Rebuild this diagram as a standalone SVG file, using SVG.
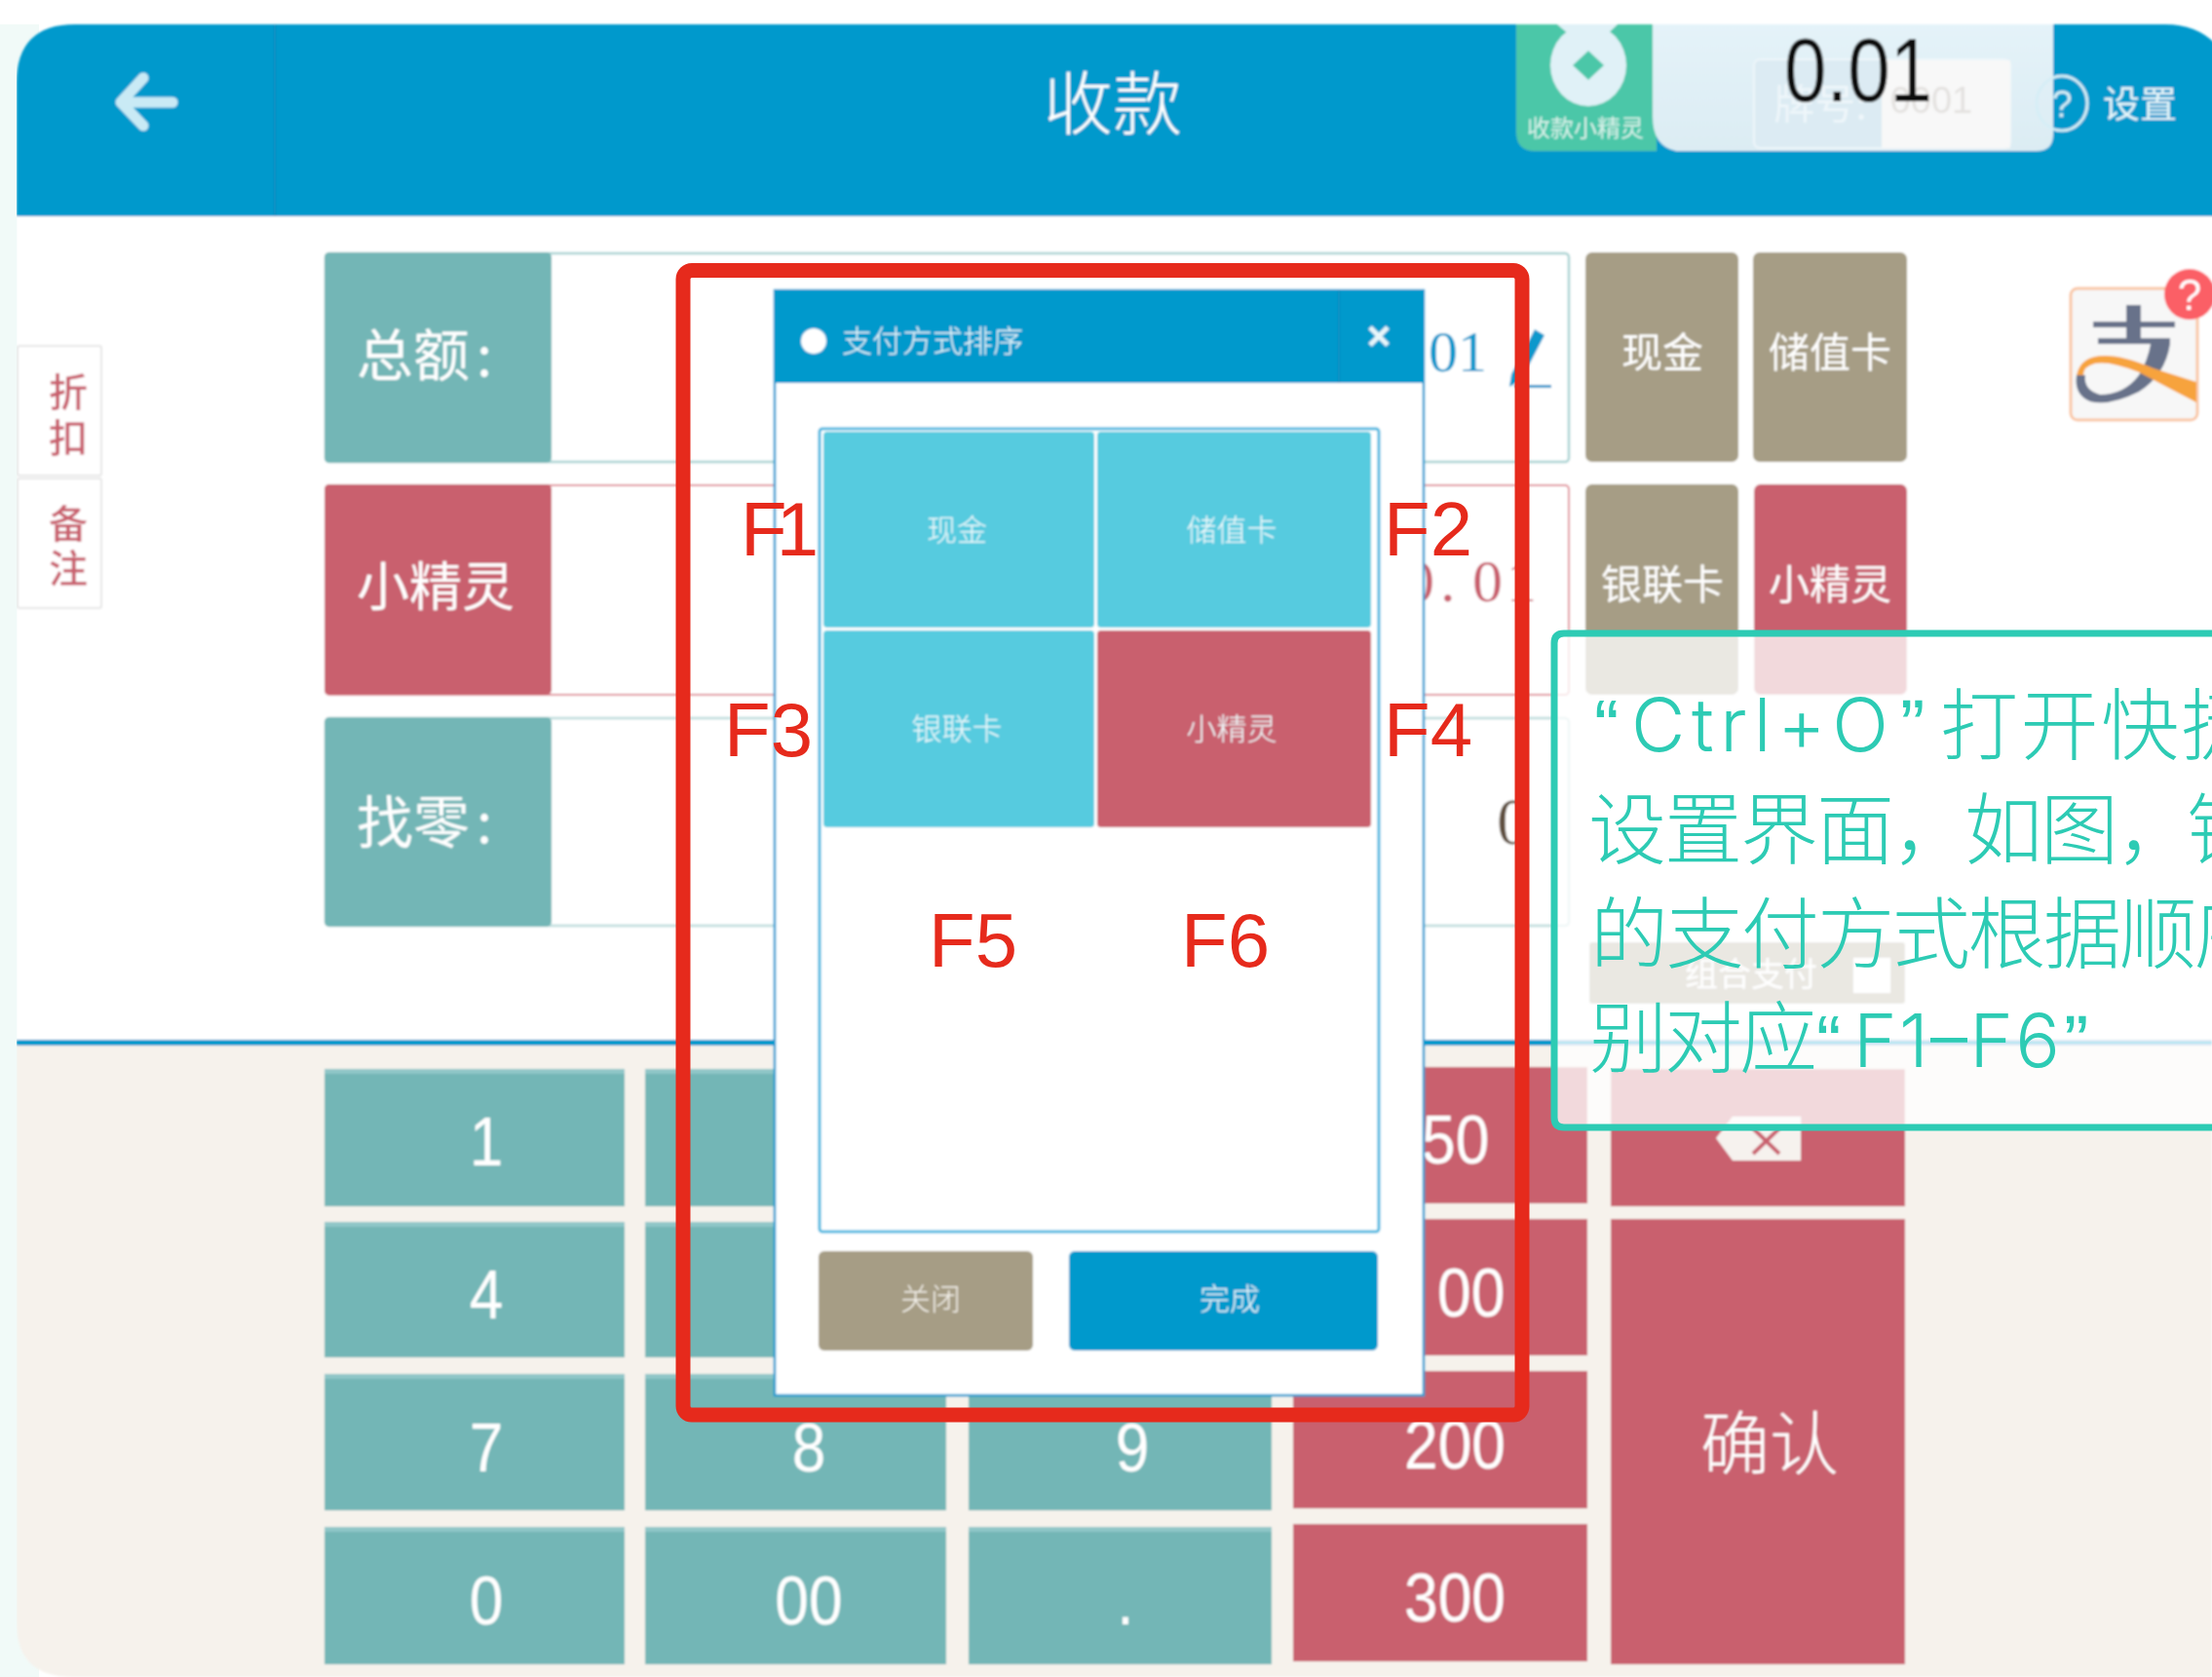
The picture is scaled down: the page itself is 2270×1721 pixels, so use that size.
<svg xmlns="http://www.w3.org/2000/svg" width="2270" height="1721" viewBox="0 0 2270 1721">
<style>
text{font-family:"Noto Sans CJK SC","Liberation Sans",sans-serif;text-anchor:middle}
.w{fill:#fff}.lat{font-family:"Liberation Sans","Noto Sans CJK SC",sans-serif}
.ser{font-family:"Liberation Serif","Noto Sans CJK SC",serif;text-anchor:start}
.t{fill:#73b6b6}.r{fill:#c9616e}.tan{fill:#a69d85}.strip{fill:#8fc6c7}
.lab{font-size:58px;fill:#fff;text-anchor:start}.lab3{font-size:54px;fill:#fff}.btn{font-size:42px;fill:#fff}
.num{font-size:70px;fill:#fff;font-family:"Liberation Sans",sans-serif}
.fk{font-size:78px;fill:#e62a1c;font-family:"Liberation Sans",sans-serif;text-anchor:start}
.tile{font-size:31px;fill:#f0fbfd;font-weight:300}
.side{font-size:40px;fill:#c9616e;font-weight:500}
.note{font-size:80px;fill:#2dcbb4;font-weight:300;text-anchor:start}
.notel{font-size:76px;fill:#2dcbb4;font-family:Inter,"Liberation Sans",sans-serif;font-weight:300;text-anchor:start}
.q{font-size:76px;fill:#2dcbb4;font-family:"Liberation Sans",sans-serif;text-anchor:start}
</style>
<defs>
<filter id="soft" x="0" y="0" width="100%" height="100%"><feGaussianBlur stdDeviation="0.8"/></filter>
<linearGradient id="plateg" x1="0" y1="0" x2="0" y2="1"><stop offset="0" stop-color="#e4f3f9"/><stop offset="1" stop-color="#dcecf3"/></linearGradient>
</defs>
<rect width="2270" height="1721" fill="#fff"/>
<rect x="0" y="25" width="40" height="1696" fill="#f1faf8"/>
<g id="screen" filter="url(#soft)">
<g id="card">
<path d="M17 1660V222H2270V1721H75Q17 1721 17 1660Z" fill="#fff"/>
<path d="M17 1068H2270V1721H75Q17 1721 17 1665Z" fill="#f6f2ec"/>
<rect x="17" y="1067" width="2253" height="6" fill="#0099cc"/>
<path d="M17 222V85Q17 25 77 25H2222Q2270 25 2290 70V222Z" fill="#0099cc"/>
<rect x="281" y="25" width="2" height="197" fill="#0a8cc0"/>
</g>
<g id="back-arrow" fill="none" stroke="#c9eaf5" stroke-width="11" stroke-linecap="round" stroke-linejoin="round">
<path d="M177 105H125"/><path d="M147 80L124 105L147 129"/>
</g>
<text id="title" x="1142" y="132" font-size="71" class="w" font-weight="300">收款</text>
<g id="widget">
<path d="M1556 25H1700V155H1575Q1556 155 1556 135Z" fill="#4cc7a8"/>
<path d="M1696 25H2107V138Q2107 155 2090 155H1720Q1696 150 1696 120Z" fill="url(#plateg)"/>
<path d="M1598 25L1618 42H1642L1660 25Z" fill="#e0f1f7"/>
<ellipse cx="1630" cy="67" rx="39" ry="42" fill="#e0f1f7"/>
<path d="M1630 52L1646 67L1630 82L1614 67Z" fill="#4cc7a8"/>
<text x="1627" y="140" font-size="24" fill="#d8f2ea">收款小精灵</text>
<rect x="1800" y="61" width="263" height="91" rx="6" fill="#dcebf3" stroke="#eef6fa" stroke-width="2"/>
<rect x="1931" y="62" width="132" height="90" fill="#f8f8f8"/>
<text x="1868" y="122" font-size="42" fill="#eef6fa">牌号:</text>
<text x="1982" y="116" font-size="38" class="lat" fill="#e4e2e0">0001</text>
<text x="1907" y="104" font-size="93" class="lat" fill="#111" textLength="152" lengthAdjust="spacingAndGlyphs">0.01</text>
<ellipse cx="2116" cy="106" rx="26" ry="28" fill="none" stroke="#d6eef6" stroke-width="3"/>
<text x="2116" y="120" font-size="38" class="lat" fill="#d6eef6">?</text>
<text x="2196" y="120" font-size="38" fill="#e6f5fa">设置</text>
</g>
<g id="side-tabs">
<rect x="18" y="355" width="86" height="133" fill="#fff" stroke="#e6e6e6" stroke-width="2" rx="2"/>
<rect x="18" y="491" width="86" height="133" fill="#fff" stroke="#e6e6e6" stroke-width="2" rx="2"/>
<text x="70" y="417" class="side">折</text><text x="70" y="464" class="side">扣</text>
<text x="70" y="552" class="side">备</text><text x="70" y="598" class="side">注</text>
</g>
<g id="row-total">
<rect x="334" y="260" width="1276" height="214" fill="#fff" stroke="#a8d2d2" stroke-width="2.5" rx="4"/>
<rect x="333" y="259" width="233" height="216" rx="5" class="t"/>
<text y="386"><tspan class="lab" x="366">总额</tspan><tspan class="lab" x="489">:</tspan></text>
<text x="1466" y="381" font-size="60" class="ser" fill="#0f98cc">01</text>
<path d="M1575 338L1585 344L1561 390L1549 397L1551 384Z" fill="#0f98cc"/>
<rect x="1554" y="395" width="38" height="3" fill="#0f98cc"/>
</g>
<g id="row-spirit">
<rect x="334" y="498" width="1276" height="215" fill="#fff" stroke="#e08d96" stroke-width="2" rx="4"/>
<rect x="333" y="497" width="233" height="216" rx="5" class="r"/>
<text x="447" y="622" class="lab3">小精灵</text>
<text x="1441 1478 1511 1546" y="617" font-size="62" class="ser" fill="#c9616e">0.01</text>
</g>
<g id="row-change">
<rect x="334" y="737" width="1276" height="213" fill="#fff" stroke="#bcdcdc" stroke-width="2.5" rx="4"/>
<rect x="333" y="736" width="233" height="215" rx="5" class="t"/>
<text y="865"><tspan class="lab" x="366">找零</tspan><tspan class="lab" x="489">:</tspan></text>
<text x="1536" y="866" font-size="68" class="ser" fill="#5f5040">0</text>
</g>
<g id="pay-buttons">
<rect x="1627" y="259" width="157" height="215" rx="7" class="tan"/>
<rect x="1799" y="259" width="158" height="215" rx="7" class="tan"/>
<rect x="1627" y="497" width="157" height="216" rx="7" class="tan"/>
<rect x="1800" y="497" width="157" height="216" rx="7" class="r"/>
<text x="1706" y="377" class="btn">现金</text><text x="1878" y="377" class="btn">储值卡</text>
<text x="1706" y="615" class="btn">银联卡</text><text x="1878" y="615" class="btn">小精灵</text>
</g>
<g id="alipay">
<rect x="2125" y="296" width="130" height="135" rx="7" fill="#f7f7f7" stroke="#f9c6a4" stroke-width="3"/>
<path d="M2148 330H2232V336H2148ZM2182 313H2197V347H2182ZM2153 347H2227V353H2153Z" fill="#67728a"/>
<path d="M2207 353H2227Q2222 385 2195 402Q2165 417 2145 412Q2128 405 2131 385L2140 385Q2138 400 2155 405Q2180 405 2195 385Q2204 370 2207 353Z" fill="#67728a"/>
<path d="M2131 385Q2135 365 2160 365Q2180 365 2210 378L2254 392V413Q2225 398 2195 382Q2165 370 2150 373Q2138 376 2138 385Z" fill="#f7a33c"/>
<circle cx="2247" cy="302" r="26" fill="#fb5f66"/>
<text x="2247" y="318" font-size="44" class="lat" fill="#fff">?</text>
</g>
<g id="combo">
<rect x="1631" y="967" width="324" height="63" rx="3" class="tan"/>
<text x="1797" y="1012" font-size="34" class="w">组合支付</text>
<rect x="1902" y="983" width="38" height="36" class="w"/>
</g>
<g id="keypad">
<rect x="333" y="1097" width="308" height="141" class="t"/><rect x="662" y="1097" width="309" height="141" class="t"/>
<rect x="333" y="1254" width="308" height="139" class="t"/><rect x="662" y="1254" width="309" height="139" class="t"/>
<rect x="333" y="1410" width="308" height="140" class="t"/><rect x="662" y="1410" width="309" height="140" class="t"/><rect x="994" y="1410" width="311" height="140" class="t"/>
<rect x="333" y="1567" width="308" height="141" class="t"/><rect x="662" y="1567" width="309" height="141" class="t"/><rect x="994" y="1567" width="311" height="141" class="t"/>
<rect x="1327" y="1095" width="302" height="140" class="r"/><rect x="1327" y="1251" width="302" height="140" class="r"/><rect x="1327" y="1407" width="302" height="141" class="r"/><rect x="1327" y="1564" width="302" height="141" class="r"/>
<rect x="1653" y="1097" width="302" height="141" class="r"/><rect x="1653" y="1251" width="302" height="457" class="r"/>
<rect x="333" y="1097" width="308" height="5" class="strip"/><rect x="662" y="1097" width="309" height="5" class="strip"/>
<rect x="333" y="1254" width="308" height="5" class="strip"/><rect x="662" y="1254" width="309" height="5" class="strip"/>
<rect x="333" y="1410" width="308" height="5" class="strip"/><rect x="662" y="1410" width="309" height="5" class="strip"/><rect x="994" y="1410" width="311" height="5" class="strip"/>
<rect x="333" y="1567" width="308" height="5" class="strip"/><rect x="662" y="1567" width="309" height="5" class="strip"/><rect x="994" y="1567" width="311" height="5" class="strip"/>
<text transform="translate(499 1196) scale(.89 1)" class="num">1</text>
<text transform="translate(499 1353) scale(.89 1)" class="num">4</text>
<text transform="translate(499 1510) scale(.89 1)" class="num">7</text>
<text transform="translate(499 1667) scale(.89 1)" class="num">0</text>
<text transform="translate(830 1510) scale(.89 1)" class="num">8</text>
<text transform="translate(830 1667) scale(.89 1)" class="num">00</text>
<text transform="translate(1162 1510) scale(.89 1)" class="num">9</text>
<text transform="translate(1155 1667) scale(.89 1)" class="num">.</text>
<text transform="translate(1459 1194) scale(.89 1)" class="num" style="text-anchor:start">50</text>
<text transform="translate(1475 1351) scale(.89 1)" class="num" style="text-anchor:start">00</text>
<text transform="translate(1493 1507) scale(.89 1)" class="num">200</text>
<text transform="translate(1493 1664) scale(.89 1)" class="num">300</text>
<text x="1816" y="1507" font-size="71" class="w" font-weight="300">确认</text>
<path d="M1778 1146H1848V1191H1778L1761 1168Z" fill="#f6f2ee"/>
<path d="M1799 1158L1826 1184M1826 1158L1799 1184" stroke="#c9616e" stroke-width="4"/>
</g>
<g id="dialog">
<rect x="795" y="298" width="666" height="1134" fill="#fff" stroke="#1f9cd2" stroke-width="2.500"/>
<rect x="794" y="298" width="667" height="95" fill="#0099cc"/>
<rect x="1373" y="298" width="2" height="95" fill="#0a8cc0"/>
<circle cx="835" cy="350" r="13" class="w"/>
<text x="957" y="361" font-size="31" fill="#e8f6fb" font-weight="300">支付方式排序</text>
<path d="M1406 336L1424 354M1424 336L1406 354" stroke="#e8f6fb" stroke-width="5"/>
<rect x="841" y="440" width="574" height="824" fill="#fff" stroke="#4ab8e0" stroke-width="3" rx="3"/>
<rect x="845" y="443" width="278" height="201" rx="4" fill="#56cbdf"/>
<rect x="1126" y="443" width="281" height="201" rx="4" fill="#56cbdf"/>
<rect x="845" y="647" width="278" height="202" rx="4" fill="#56cbdf"/>
<rect x="1126" y="647" width="281" height="202" rx="4" class="r"/>
<text x="982" y="555" class="tile">现金</text><text x="1264" y="555" class="tile">储值卡</text>
<text x="982" y="759" class="tile">银联卡</text><text x="1264" y="759" class="tile">小精灵</text>
<rect x="840" y="1284" width="220" height="102" rx="6" class="tan"/>
<rect x="1097" y="1284" width="317" height="102" rx="6" fill="#0099cc"/>
<text x="955" y="1344" font-size="31" fill="#f2efe8" font-weight="300">关闭</text>
<text x="1262" y="1344" font-size="31" fill="#e8f6fb" font-weight="300">完成</text>
</g>
</g>
<g id="annotation-red">
<rect x="701" y="277.500" width="861" height="1174.500" rx="9" fill="none" stroke="#e62a1c" stroke-width="15"/>
<text x="760" y="570" class="fk">F<tspan dx="-11">1</tspan></text><text x="1420" y="570" class="fk">F2</text>
<text x="743" y="776" class="fk">F3</text><text x="1420" y="776" class="fk">F4</text>
<text x="953" y="992" class="fk">F5</text><text x="1212" y="992" class="fk">F6</text>
</g>
<g id="annotation-note">
<path d="M2290 650H1605Q1595 650 1595 660V1147Q1595 1157 1605 1157H2290Z" fill="#fff" fill-opacity="0.76" stroke="#2dcbb4" stroke-width="7"/>
<text y="771"><tspan class="q" x="1636">“</tspan><tspan class="notel" x="1674" textLength="264" lengthAdjust="spacing">Ctrl+O</tspan><tspan class="q" x="1950">”</tspan></text>
<text y="773" class="note" x="1991" letter-spacing="2.500">打开快捷</text>
<text y="880" class="note" x="1630" letter-spacing="-2">设置界面，</text>
<text y="880" class="note" x="2016" letter-spacing="-2">如图，</text>
<text y="880" class="note" x="2244">钱</text>
<text y="987" class="note" x="1632" letter-spacing="-2.500">的支付方式根据顺序</text>
<text y="1094" class="note" x="1631" letter-spacing="-3">别对应</text>
<text y="1095"><tspan class="q" x="1864">“</tspan><tspan class="notel" x="1902" textLength="212" lengthAdjust="spacing">F1–F6</tspan><tspan class="q" x="2118">”</tspan></text>
</g>
</svg>
